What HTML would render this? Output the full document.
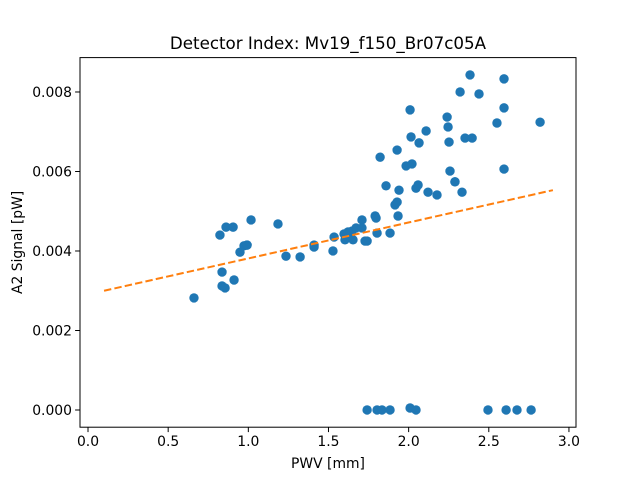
<!DOCTYPE html>
<html><head><meta charset="utf-8"><style>
body{margin:0;background:#fff;font-family:"Liberation Sans","DejaVu Sans",sans-serif}
svg text{font-family:"DejaVu Sans","Liberation Sans",sans-serif;fill:#000}
</style></head><body>
<svg id="c" width="640" height="480" xmlns="http://www.w3.org/2000/svg"></svg>
<script>
const pwv=[0.661,0.823,0.861,0.905,0.836,0.836,0.855,0.911,0.948,0.973,0.992,1.017,0.992,1.185,1.235,1.323,1.41,1.41,1.528,1.535,1.597,1.616,1.622,1.635,1.603,1.647,1.653,1.672,1.709,1.709,1.728,1.741,1.791,1.797,1.803,1.859,1.822,1.884,1.915,1.928,1.928,1.94,1.934,1.984,2.009,2.015,2.021,2.046,2.059,2.065,2.109,2.121,2.177,2.24,2.246,2.252,2.258,2.289,2.289,2.321,2.333,2.352,2.383,2.396,2.439,2.551,2.595,2.595,2.595,2.82,1.741,1.803,1.834,1.884,2.009,2.046,2.495,2.608,2.676,2.764];
const sig=[0.00282,0.0044,0.0046,0.0046,0.00347,0.00312,0.00307,0.00327,0.00397,0.00413,0.00415,0.00478,0.00415,0.00468,0.00387,0.00385,0.0041,0.00415,0.004,0.00435,0.00443,0.00438,0.00448,0.00448,0.00428,0.0045,0.00428,0.00458,0.00478,0.00458,0.00425,0.00425,0.00488,0.00483,0.00445,0.00564,0.00636,0.00445,0.00516,0.00523,0.00654,0.00553,0.00488,0.00614,0.00755,0.00687,0.00619,0.00558,0.00566,0.00672,0.00702,0.00548,0.00541,0.00737,0.00712,0.00674,0.00601,0.00574,0.00574,0.008,0.00548,0.00684,0.00843,0.00684,0.00795,0.00722,0.0076,0.00833,0.00606,0.00724,0,0,0,0,0.00005,0,0,0,0,0];
const fitX=[0.1,2.9];
const fitY=[0.003,0.00553];
const xTicks=[0,0.5,1,1.5,2,2.5,3];
const xTickLabels=["0.0","0.5","1.0","1.5","2.0","2.5","3.0"];
const yTicks=[0,0.002,0.004,0.006,0.008];
const yTickLabels=["0.000","0.002","0.004","0.006","0.008"];
const NS="http://www.w3.org/2000/svg";
const svg=document.getElementById('c');
const L=80,R=576,T=57.6,B=427.2;
const xMin=-0.05,xMax=3.044,yMin=-0.000433,yMax=0.008865;
function sx(v){return L+(v-xMin)/(xMax-xMin)*(R-L);}
function sy(v){return B-(v-yMin)/(yMax-yMin)*(B-T);}
function mk(t,a){const e=document.createElementNS(NS,t);for(const k in a)e.setAttribute(k,a[k]);svg.appendChild(e);return e;}
for(let i=0;i<pwv.length;i++){
 const c=mk('circle',{cx:sx(pwv[i]),cy:sy(sig[i]),r:4.7,fill:'#1f77b4'});
 
 
}
const fl=mk('line',{x1:sx(fitX[0]),y1:sy(fitY[0]),x2:sx(fitX[1]),y2:sy(fitY[1]),stroke:'#ff7f0e','stroke-width':2,'stroke-dasharray':'7.4,3.2'});


const fr=mk('rect',{x:L,y:T,width:R-L,height:B-T,fill:'none',stroke:'#000','stroke-width':1});


xTicks.forEach((v,i)=>{
 const x=sx(v);
 mk('line',{x1:x,y1:B,x2:x,y2:B+4.9,stroke:'#000','stroke-width':1});
 const t=mk('text',{x:x,y:B+19,'font-size':13.9,'text-anchor':'middle'});
 t.textContent=xTickLabels[i];
 
 
});
yTicks.forEach((v,i)=>{
 const y=sy(v);
 mk('line',{x1:L,y1:y,x2:L-4.9,y2:y,stroke:'#000','stroke-width':1});
 const t=mk('text',{x:L-8,y:y+5,'font-size':13.9,'text-anchor':'end'});
 t.textContent=yTickLabels[i];
 
 
});
const xt=mk('text',{x:(L+R)/2,y:468,'font-size':13.9,'text-anchor':'middle'});
xt.textContent='PWV [mm]';


const yt=mk('text',{x:0,y:0,'font-size':13.9,'text-anchor':'middle',transform:'translate(22,242.4) rotate(-90)'});
yt.textContent='A2 Signal [pW]';


const tt=mk('text',{x:(L+R)/2,y:49,'font-size':16.7,'text-anchor':'middle'});
tt.textContent='Detector Index: Mv19_f150_Br07c05A';


</script>
</body></html>
